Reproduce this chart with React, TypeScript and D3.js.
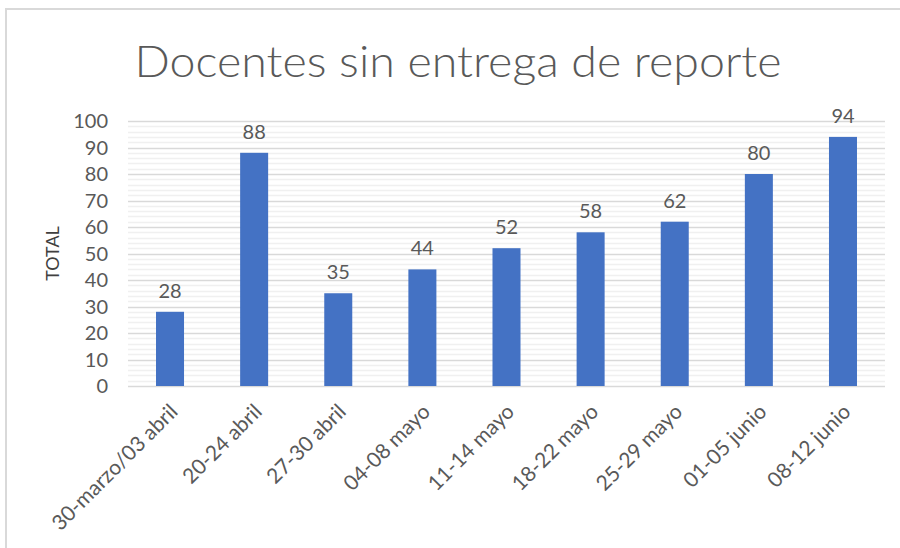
import React from "react";
import * as d3 from "d3";

const categories = [
  "30-marzo/03 abril",
  "20-24 abril",
  "27-30 abril",
  "04-08 mayo",
  "11-14 mayo",
  "18-22 mayo",
  "25-29 mayo",
  "01-05 junio",
  "08-12 junio",
];
const values = [28, 88, 35, 44, 52, 58, 62, 80, 94];
const majorTicks = [0, 10, 20, 30, 40, 50, 60, 70, 80, 90, 100];
const minorTicks = d3.range(0, 101, 2);
const title = "Docentes sin entrega de reporte";
const yTitle = "TOTAL";

export default function App() {
  const W = 900, H = 548;
  const left = 128, right = 885, top = 121, bottom = 386;
  const x = d3.scaleBand<string>().domain(categories).range([left, right]).paddingInner(0.667).paddingOuter(0.333);
  const y = d3.scaleLinear().domain([0, 100]).range([bottom, top]);
  const font = "Lato, 'Open Sans', sans-serif";
  const textCol = "#595959";
  return (
    <svg width={W} height={H} style={{ position: "absolute", left: 0, top: 0 }} fontFamily={font}>
      <rect x={0} y={0} width={W} height={H} fill="#fff" />
      <line x1={6} x2={W} y1={9} y2={9} stroke="#d9d9d9" strokeWidth={2} />
      <line x1={6} x2={6} y1={8} y2={H} stroke="#d9d9d9" strokeWidth={2} />
      <text x={458} y={77} textAnchor="middle" fontSize={44} fill={textCol} textLength={647} lengthAdjust="spacingAndGlyphs" fontWeight={300}>
        {title}
      </text>
      {minorTicks.filter((t) => t % 10 !== 0).map((t) => (
        <line key={"m" + t} x1={left} x2={right} y1={Math.round(y(t)) + 0.5} y2={Math.round(y(t)) + 0.5} stroke="#f0f0f0" strokeWidth={1.5} />
      ))}
      {majorTicks.map((t) => (
        <line key={"g" + t} x1={left} x2={right} y1={Math.round(y(t)) + 0.5} y2={Math.round(y(t)) + 0.5} stroke="#d9d9d9" strokeWidth={1.5} />
      ))}
      {majorTicks.map((t) => (
        <text key={"t" + t} x={108} y={y(t) + 7} textAnchor="end" fontSize={20} fill={textCol}>
          {t}
        </text>
      ))}
      <text transform={`translate(59,${(top + bottom) / 2}) rotate(-90)`} textAnchor="middle" fontSize={18} fill="#404040">
        {yTitle}
      </text>
      {categories.map((c, i) => (
        <g key={c}>
          <rect x={x(c)} y={y(values[i])} width={x.bandwidth()} height={bottom - y(values[i])} fill="#4472c4" />
          <text x={x(c)! + x.bandwidth() / 2} y={y(values[i]) - 14} textAnchor="middle" fontSize={20} fill={textCol}>
            {values[i]}
          </text>
          <text
            transform={`translate(${x(c)! + x.bandwidth() / 2 + 9},${bottom + 27}) rotate(-45)`}
            textAnchor="end"
            fontSize={21}
            fill={textCol}
          >
            {c}
          </text>
        </g>
      ))}
    </svg>
  );
}
